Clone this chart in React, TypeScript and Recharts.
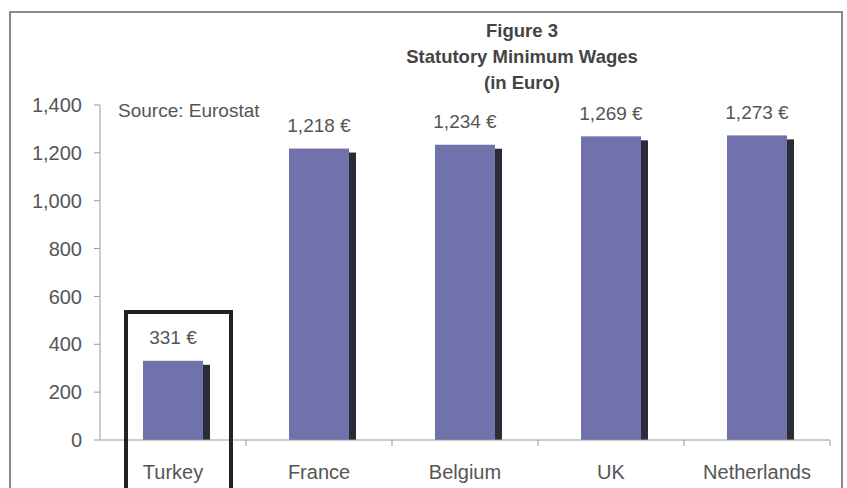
import { BarChart, Bar, XAxis, YAxis, LabelList } from 'recharts';

const countries = ['Turkey', 'France', 'Belgium', 'UK', 'Netherlands'];
const wages = [331, 1218, 1234, 1269, 1273];
const yTicks = [0, 200, 400, 600, 800, 1000, 1200, 1400];

const data = countries.map((c, i) => ({ country: c, wage: wages[i] }));

const FONT = '"Liberation Sans", Arial, sans-serif';
const TEXT = '#555';
const BAR = '#7171ab';
const HALF_BAND = 73;

const ShadowBar = (props: any) => {
  const { x, y, width, height } = props;
  if (height <= 0) return null;
  return (
    <g>
      <rect x={x + 7} y={y + 4} width={width} height={height - 4} fill="#2c2c36" />
      <rect x={x} y={y} width={width} height={height} fill={BAR} />
    </g>
  );
};

const CategoryTick = (props: any) => {
  const { x, y, payload } = props;
  const axisY = y - 8;
  return (
    <g>
      <line x1={x + HALF_BAND} y1={axisY} x2={x + HALF_BAND} y2={axisY + 6} stroke="#999" />
      <text x={x} y={axisY + 32} textAnchor="middle" dominantBaseline="central" fontSize={20} fill={TEXT} fontFamily={FONT}>
        {payload.value}
      </text>
    </g>
  );
};

const ValueLabel = (props: any) => {
  const { x, y, width, value } = props;
  return (
    <text x={x + width / 2} y={y - 23} textAnchor="middle" dominantBaseline="central" fontSize={19} fill={TEXT} fontFamily={FONT}>
      {`${value.toLocaleString('en-US')} €`}
    </text>
  );
};

export default function App() {
  return (
    <div style={{ position: 'absolute', left: 0, top: 0, width: 847, height: 488, overflow: 'hidden', background: '#fff', fontFamily: FONT }}>
      <div style={{ position: 'absolute', left: 9, top: 11, width: 830, height: 520, border: '2px solid #8a8a8a' }} />
      <div style={{ position: 'absolute', left: 322, width: 400, top: 18, textAlign: 'center', fontWeight: 'bold', fontSize: 18.5, color: '#444', lineHeight: '26px' }}>
        <div>Figure 3</div>
        <div>Statutory Minimum Wages</div>
        <div>(in Euro)</div>
      </div>
      <div style={{ position: 'absolute', left: 118, top: 99, fontSize: 19, color: TEXT, lineHeight: '24px' }}>Source: Eurostat</div>
      <BarChart
        width={847}
        height={488}
        data={data}
        margin={{ top: 105, right: 17, bottom: 0, left: 0 }}
        barCategoryGap={0}
        style={{ position: 'absolute', left: 0, top: 0 }}
      >
        <YAxis
          width={100}
          domain={[0, 1400]}
          ticks={yTicks}
          interval={0}
          tickFormatter={(v: number) => v.toLocaleString('en-US')}
          axisLine={{ stroke: '#999' }}
          tickLine={{ stroke: '#999' }}
          tickSize={6}
          tickMargin={12}
          tick={{ fontSize: 20, fill: TEXT, fontFamily: FONT }}
        />
        <XAxis dataKey="country" height={48} axisLine={{ stroke: '#999' }} tickLine={false} tick={<CategoryTick />} interval={0} />
        <Bar dataKey="wage" barSize={60} shape={<ShadowBar />} isAnimationActive={false}>
          <LabelList dataKey="wage" content={<ValueLabel />} />
        </Bar>
      </BarChart>
      <div style={{ position: 'absolute', left: 124, top: 310, width: 101, height: 200, border: '4px solid #222' }} />
    </div>
  );
}
